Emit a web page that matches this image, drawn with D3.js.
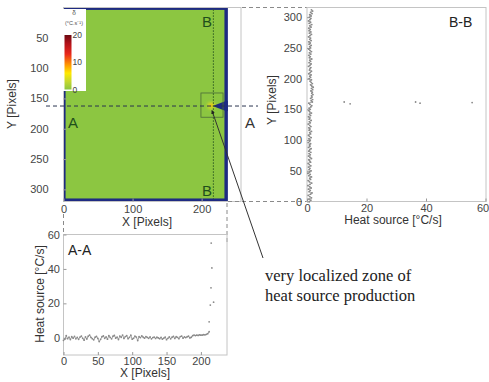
<!DOCTYPE html>
<html>
<head>
<meta charset="utf-8">
<script src="https://cdn.jsdelivr.net/npm/d3@7"></script>
<style>
  body { margin: 0; background: #fff; }
  svg { display: block; font-family: "Liberation Sans", Arial, sans-serif; }
</style>
</head>
<body>
<svg id="chart" width="489" height="382"></svg>
<script>
// ---- data ----
const mapXTicks = [0, 100, 200]
const mapYTicks = [50, 100, 150, 200, 250, 300]
const aaXTicks = [0, 50, 100, 150, 200]
const aaYTicks = [0, 20, 40, 60]
const bbXTicks = [0, 20, 40, 60]
const bbYTicks = [0, 50, 100, 150, 200, 250, 300]
const colorbarTicks = [0, 10, 20]

// colour map of the heat source field (°C/s)
const colorStops = [0, 3, 6, 9, 13, 17, 20]
const colorValues = ['#8cc641', '#c6d82f', '#ffe900', '#ff9900', '#e9281c', '#b0111a', '#6c0a12']

// specimen extent in pixels, the green field and the crack notch
const specimenX = [0, 238]
const specimenY = [0, 320]
const fieldX = [3, 233]
const fieldY = [4, 315]
const crackPoints = [[216, 162.5], [233, 155], [238, 154], [238, 171], [233, 170]]

// hot spot cells around the crack tip
const hotCols = [208, 210, 212, 214, 216, 218, 220]
const hotRows = [156, 158, 160, 162, 164, 166, 168]
const hotValues = [
  [0.5, 1, 1.5, 2, 1.5, 1, 0.5],
  [1, 2, 3, 4, 3.5, 2, 1],
  [1.5, 3, 5, 7, 6, 3, 1.5],
  [2, 4, 7, 11, 8, 4, 2],
  [1.5, 3, 5, 7, 5, 3, 1.5],
  [1, 2, 3, 4, 3, 2, 1],
  [0.5, 1, 1.5, 2, 1.5, 1, 0.5]
]

// A-A profile (heat source along X at the crack line)
const aaPixel = d3.range(0, 214, 2)
const aaHeat = [
  -1.5, -0.8, 1.2, -0.5, 0.3, -1.0, 0.6, -0.2, 0.8, -0.6, 0.2,
  -0.9, 0.4, 1.0, -0.3, -1.4, 0.5, -0.7, 0.9, 1.6, 0.2,
  -0.5, -1.2, 0.3, 0.8, -0.4, -2.2, -0.9, 0.6, 1.1, -0.3,
  0.5, -0.8, 1.3, 0.2, -0.6, 0.9, 1.4, -0.2, 0.4, -1.0,
  1.0, 0.3, 1.6, -0.4, 0.7, 1.2, -0.5, 0.2, 1.5, -0.8,
  -0.3, 0.9, 0.4, -1.6, 0.6, 0.1, 1.1, 0.3, -0.2, 0.7,
  0.2, -0.3, 0.5, -0.6, 0.1, 0.4, -0.4, 0.3, -0.1, -0.5,
  0.2, -0.8, -0.2, 0.4, -1.1, -0.3, 0.5, -0.6, 0.3, 0.8,
  -0.4, 0.6, 0.2, -0.5, 0.7, 1.0, -0.2, 0.5, 0.1, 0.6,
  0.9, -0.1, 0.3, 1.2, 1.6, 1.3, 1.5, 1.4, 1.7, 1.5,
  1.6, 1.8, 1.7, 2.0, 2.4, 3.5
]
const aaSpikePixel = [212, 213.7, 218.5, 214.7, 216, 215]
const aaSpikeHeat = [9.3, 19, 20.7, 29, 40.6, 55]

// B-B profile (heat source along Y at the crack tip)
const bbPixel = d3.range(0, 314, 2)
const bbHeat = [
  0.8, 1.3, 0.6, 1.5, 0.9, 0.4, 1.2, 1.7, 0.7, 1.1,
  0.5, 1.4, 0.9, 0.3, 1.0, 1.6, 0.8, 0.4, 1.2, 0.9,
  1.5, 0.6, 1.1, 0.3, 0.9, 1.4, 0.7, 1.0, 0.5, 1.3,
  0.8, 0.4, 1.2, 0.9, 0.6, 1.5, 1.0, 0.5, 1.1, 0.7,
  1.3, 0.6, 0.9, 1.4, 0.5, 1.0, 0.8, 1.2, 0.4, 0.9,
  1.1, 0.6, 1.4, 0.8, 0.5, 1.2, 0.9, 1.5, 0.7, 1.0,
  0.6, 1.3, 0.9, 0.4, 1.1, 0.8, 1.4, 0.7, 1.0, 0.5,
  1.2, 0.8, 1.5, 0.9, 0.6, 1.1, 0.7, 1.3, 1.6, 1.0,
  0.6, 1.8, 1.4, 1.9, 1.2, 1.7, 1.5, 2.0, 1.6, 1.8,
  1.3, 1.9, 1.5, 2.1, 1.6, 1.2, 1.8, 1.4, 1.0, 1.5,
  0.7, 1.2, 0.9, 1.4, 0.6, 1.1, 1.5, 0.8, 1.0, 1.3,
  0.5, 1.0, 1.4, 0.7, 1.2, 0.9, 1.6, 0.8, 1.1, 0.6,
  1.3, 0.8, 1.5, 1.0, 0.6, 1.2, 0.9, 1.4, 0.7, 1.1,
  0.6, 1.4, 0.9, 1.2, 0.5, 1.0, 1.5, 0.8, 1.3, 0.7,
  1.1, 0.6, 1.4, 0.9, 1.6, 0.7, 1.2, 0.5, 1.0, 1.3,
  0.8, 1.4, 0.9, 1.7, 1.2, 1.9, 1.5
]
const bbSpikeHeat = [12.5, 14.5, 36.5, 38, 55.5]
const bbSpikePixel = [162, 159, 162, 160, 161]

// ---- setup ----
const svg = d3.select('#chart')
const frameColor = '#c4c4c4'
const tickColor = '#444'
const dataColor = '#8a8a8a'

const mapX = d3.scaleLinear().domain([0, 257]).range([63.5, 241])
const mapY = d3.scaleLinear().domain([0, 320]).range([7.5, 201.5])
const aaX = d3.scaleLinear().domain([0, 238]).range([63.5, 227])
const aaY = d3.scaleLinear().domain([-10, 60]).range([355, 234.5])
const bbX = d3.scaleLinear().domain([0, 60]).range([307, 485.5])
const bbY = d3.scaleLinear().domain([0, 315]).range([201.5, 8])
const heatColor = d3.scaleLinear().domain(colorStops).range(colorValues).clamp(true)

const defs = svg.append('defs')
defs.append('filter').attr('id', 'soft')
  .attr('x', '-50%').attr('y', '-50%').attr('width', '200%').attr('height', '200%')
  .append('feGaussianBlur').attr('stdDeviation', 1.1)

defs.append('marker')
  .attr('id', 'tip')
  .attr('viewBox', '0 0 8 8')
  .attr('refX', 7).attr('refY', 4)
  .attr('markerWidth', 4).attr('markerHeight', 4)
  .attr('orient', 'auto')
  .append('path')
  .attr('d', 'M0,0 L8,4 L0,8 z')
  .attr('fill', '#222')

// helper for a matlab-like axis (inward ticks, light frame)
function drawAxis(axis, transform, padding) {
  const g = svg.append('g')
    .attr('transform', transform)
    .call(axis.tickSizeInner(-3).tickSizeOuter(0).tickPadding(padding))
  g.select('.domain').remove()
  g.selectAll('.tick line').attr('stroke', '#999')
  g.selectAll('.tick text')
    .attr('fill', tickColor)
    .style('font-size', '11px')
    .style('font-family', '"Liberation Sans", Arial, sans-serif')
  return g
}

function drawFrame(x0, x1, y0, y1) {
  svg.append('rect')
    .attr('x', x0).attr('y', y0)
    .attr('width', x1 - x0).attr('height', y1 - y0)
    .attr('fill', 'none')
    .attr('stroke', frameColor)
    .attr('stroke-width', 1)
}

function label(x, y, text, size, opts = {}) {
  const t = svg.append('text')
    .attr('x', x).attr('y', y)
    .attr('text-anchor', opts.anchor || 'middle')
    .attr('fill', opts.fill || '#333')
    .style('font-size', size + 'px')
    .text(text)
  if (opts.rotate) t.attr('transform', `rotate(-90, ${x}, ${y})`)
  if (opts.family) t.style('font-family', opts.family)
  return t
}

// ---- heat source map ----
const map = svg.append('g')

// region outside the specimen (no data) in dark blue
map.append('rect')
  .attr('x', mapX(specimenX[0])).attr('y', mapY(specimenY[0]))
  .attr('width', mapX(specimenX[1]) - mapX(specimenX[0]))
  .attr('height', mapY(specimenY[1]) - mapY(specimenY[0]))
  .attr('fill', '#1e2a82')

// uniform field
map.append('rect')
  .attr('x', mapX(fieldX[0])).attr('y', mapY(fieldY[0]))
  .attr('width', mapX(fieldX[1]) - mapX(fieldX[0]))
  .attr('height', mapY(fieldY[1]) - mapY(fieldY[0]))
  .attr('fill', heatColor(0))

// hot spot cells
const hot = map.append('g').attr('filter', 'url(#soft)')
hotValues.forEach((row, i) => {
  row.forEach((v, j) => {
    hot.append('rect')
      .attr('x', mapX(hotCols[j] - 1))
      .attr('y', mapY(hotRows[i] - 1))
      .attr('width', mapX(hotCols[j] + 1) - mapX(hotCols[j] - 1))
      .attr('height', mapY(hotRows[i] + 1) - mapY(hotRows[i] - 1))
      .attr('fill', heatColor(v))
  })
})

// crack notch
map.append('path')
  .attr('d', d3.line().x(d => mapX(d[0])).y(d => mapY(d[1])).curve(d3.curveLinearClosed)(crackPoints))
  .attr('fill', '#1e2a82')

// small box around the crack tip
map.append('rect')
  .attr('x', mapX(199)).attr('y', mapY(141))
  .attr('width', mapX(231) - mapX(199))
  .attr('height', mapY(181) - mapY(141))
  .attr('fill', 'none')
  .attr('stroke', '#4b6b3a')
  .attr('stroke-width', 0.8)

drawFrame(63.5, 241, 7.5, 201.5)
drawAxis(d3.axisLeft(mapY).tickValues(mapYTicks), 'translate(63.5,0)', 15)
drawAxis(d3.axisBottom(mapX).tickValues(mapXTicks), 'translate(0,201.5)', 3.5)

// section lines A and B
svg.append('line')
  .attr('x1', 46).attr('x2', 258)
  .attr('y1', mapY(162.5)).attr('y2', mapY(162.5))
  .attr('stroke', '#2b3550')
  .attr('stroke-width', 1)
  .attr('stroke-dasharray', '4,3')

svg.append('line')
  .attr('x1', mapX(217)).attr('x2', mapX(217))
  .attr('y1', mapY(3)).attr('y2', mapY(316))
  .attr('stroke', '#2d5a22')
  .attr('stroke-width', 1)
  .attr('stroke-dasharray', '1.5,1.5')

// colour bar
svg.append('rect')
  .attr('x', 62).attr('y', 9)
  .attr('width', 24).attr('height', 82)
  .attr('fill', '#fff')

const cbY = d3.scaleLinear().domain([0, 20]).range([89.5, 35])
const grad = defs.append('linearGradient')
  .attr('id', 'cb')
  .attr('x1', 0).attr('y1', 1).attr('x2', 0).attr('y2', 0)
grad.selectAll('stop')
  .data(colorStops)
  .enter()
  .append('stop')
  .attr('offset', d => d / 20)
  .attr('stop-color', d => heatColor(d))

svg.append('rect')
  .attr('x', 64.5).attr('y', cbY(20))
  .attr('width', 7).attr('height', cbY(0) - cbY(20))
  .attr('fill', 'url(#cb)')

colorbarTicks.forEach(v => {
  label(72.5, cbY(v) + 3, String(v), 8.5, { anchor: 'start', fill: '#444' })
})
label(74, 15, 'δ', 6.5, { fill: '#555' })
label(74, 25, '(°C.s⁻¹)', 5.5, { fill: '#555' })

// section letters
label(73, 128, 'A', 15, { fill: '#1f4f1c' })
label(207, 27, 'B', 15, { fill: '#1f4f1c' })
label(207, 196, 'B', 15, { fill: '#1f4f1c' })
label(250, 128, 'A', 15, { fill: '#333' })

label(147, 226, 'X [Pixels]', 12)
label(16, 104, 'Y [Pixels]', 12, { rotate: true })

// ---- connectors ----
const connector = (x1, y1, x2, y2) => svg.append('line')
  .attr('x1', x1).attr('y1', y1).attr('x2', x2).attr('y2', y2)
  .attr('stroke', '#8a8a8a')
  .attr('stroke-width', 1)
  .attr('stroke-dasharray', '4,3')

connector(242, 7.5, 307, 7.5)
connector(228, 201.5, 307, 201.5)
connector(63.5, 214, 63.5, 234.5)
connector(227, 203, 227, 244)

// ---- A-A profile ----
drawFrame(63.5, 227, 234.5, 355)
drawAxis(d3.axisLeft(aaY).tickValues(aaYTicks), 'translate(63.5,0)', 3.5)
drawAxis(d3.axisBottom(aaX).tickValues(aaXTicks), 'translate(0,355)', 2)

svg.append('path')
  .datum(aaPixel.map((p, i) => [p, aaHeat[i]]))
  .attr('fill', 'none')
  .attr('stroke', dataColor)
  .attr('stroke-width', 0.8)
  .attr('d', d3.line().x(d => aaX(d[0])).y(d => aaY(d[1])))

svg.append('g').selectAll('circle')
  .data(aaPixel.map((p, i) => [p, aaHeat[i]]).concat(aaSpikePixel.map((p, i) => [p, aaSpikeHeat[i]])))
  .enter()
  .append('circle')
  .attr('cx', d => aaX(d[0]))
  .attr('cy', d => aaY(d[1]))
  .attr('r', 0.9)
  .attr('fill', dataColor)

label(68, 255, 'A-A', 14, { anchor: 'start', fill: '#222' })
label(145, 377, 'X [Pixels]', 12)
label(44, 294, 'Heat source [°C/s]', 12, { rotate: true })

// ---- B-B profile ----
drawFrame(307, 486, 7.5, 201.5)
drawAxis(d3.axisLeft(bbY).tickValues(bbYTicks), 'translate(307,0)', 5)
drawAxis(d3.axisBottom(bbX).tickValues(bbXTicks), 'translate(0,201.5)', 2.5)
  .selectAll('.tick text')
  .filter(d => d === 60)
  .attr('dx', '-3')

svg.append('path')
  .datum(bbPixel.map((p, i) => [bbHeat[i], p]))
  .attr('fill', 'none')
  .attr('stroke', dataColor)
  .attr('stroke-width', 0.8)
  .attr('d', d3.line().x(d => bbX(d[0])).y(d => bbY(d[1])))

svg.append('g').selectAll('circle')
  .data(bbPixel.map((p, i) => [bbHeat[i], p]).concat(bbSpikeHeat.map((h, i) => [h, bbSpikePixel[i]])))
  .enter()
  .append('circle')
  .attr('cx', d => bbX(d[0]))
  .attr('cy', d => bbY(d[1]))
  .attr('r', 0.9)
  .attr('fill', dataColor)

label(449, 27, 'B-B', 14, { anchor: 'start', fill: '#222' })
label(393, 224, 'Heat source [°C/s]', 12)
label(276, 100, 'Y [Pixels]', 12, { rotate: true })

// ---- annotation ----
svg.append('line')
  .attr('x1', 263).attr('y1', 258)
  .attr('x2', mapX(215)).attr('y2', mapY(170))
  .attr('stroke', '#333')
  .attr('stroke-width', 1)
  .attr('marker-end', 'url(#tip)')

const serif = '"Liberation Serif", "Times New Roman", serif'
label(265, 281, 'very localized zone of', 16.5, { anchor: 'start', fill: '#222', family: serif })
label(265, 301, 'heat source production', 16.5, { anchor: 'start', fill: '#222', family: serif })
</script>
</body>
</html>
